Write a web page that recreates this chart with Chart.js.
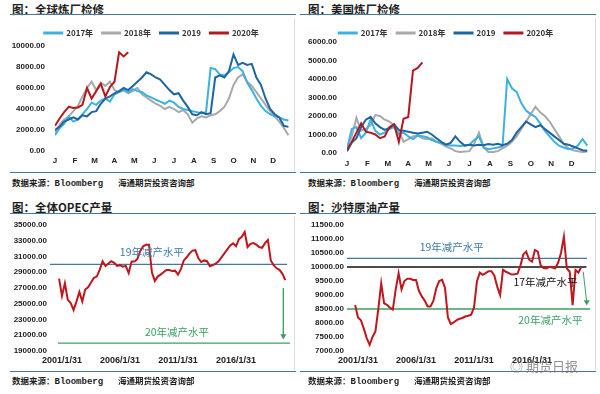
<!DOCTYPE html>
<html>
<head>
<meta charset="utf-8">
<script src="https://cdn.jsdelivr.net/npm/chart.js@4.4.0/dist/chart.umd.min.js"></script>
<style>
    body { margin: 0; background: #fff; font-family: "Noto Sans CJK SC", sans-serif; }
    #page { position: relative; width: 600px; height: 394px; overflow: hidden; background: #fff; }
    .title { position: absolute; font-size: 11.5px; font-weight: bold; color: #1e1e1e; line-height: 12px; white-space: nowrap; }
    .rule { position: absolute; height: 0; border-top: 1.5px solid #44799c; }
    .edge { position: absolute; width: 0; border-left: 1px solid #dcdcdc; }
    .src { position: absolute; font-size: 8.5px; font-weight: bold; color: #1e1e1e; line-height: 10px; white-space: nowrap; }
    .mono { font-family: "Liberation Mono", monospace; font-size: 9px; }
    .cv { position: absolute; }
    .mark { position: absolute; left: 510px; top: 356px; font-size: 13px; color: rgba(110, 110, 110, 0.75); white-space: nowrap; }
</style>
</head>
<body>
<div id="page">
    <div class="title" style="left:12px;top:3px">图：全球炼厂检修</div>
    <div class="title" style="left:308px;top:3px">图：美国炼厂检修</div>
    <div class="title" style="left:12px;top:201px">图：全体OPEC产量</div>
    <div class="title" style="left:308px;top:201px">图：沙特原油产量</div>

    <div class="rule" style="left:10px;top:14px;width:286px"></div>
    <div class="rule" style="left:300px;top:14px;width:296px"></div>
    <div class="rule" style="left:10px;top:172px;width:286px"></div>
    <div class="rule" style="left:300px;top:172px;width:296px"></div>
    <div class="rule" style="left:10px;top:213px;width:286px"></div>
    <div class="rule" style="left:300px;top:213px;width:296px"></div>
    <div class="rule" style="left:10px;top:371px;width:286px"></div>
    <div class="rule" style="left:300px;top:371px;width:296px"></div>

    <div class="edge" style="left:294px;top:18px;height:153px"></div>
    <div class="edge" style="left:595px;top:18px;height:153px"></div>
    <div class="edge" style="left:294px;top:216px;height:154px"></div>
    <div class="edge" style="left:595px;top:216px;height:154px"></div>

    <canvas id="chartGlobal" class="cv" style="left:10px;top:20px" width="286" height="152"></canvas>
    <canvas id="chartUS" class="cv" style="left:300px;top:20px" width="296" height="153"></canvas>
    <canvas id="chartOpec" class="cv" style="left:10px;top:216px" width="286" height="156"></canvas>
    <canvas id="chartSaudi" class="cv" style="left:305px;top:216px" width="290" height="156"></canvas>

    <div class="src" style="left:12px;top:177px">数据来源：<span class="mono">Bloomberg</span></div>
    <div class="src" style="left:118px;top:177px">海通期货投资咨询部</div>
    <div class="src" style="left:308px;top:177px">数据来源：<span class="mono">Bloomberg</span></div>
    <div class="src" style="left:414px;top:177px">海通期货投资咨询部</div>
    <div class="src" style="left:12px;top:375px">数据来源：<span class="mono">Bloomberg</span></div>
    <div class="src" style="left:118px;top:375px">海通期货投资咨询部</div>
    <div class="src" style="left:308px;top:375px">数据来源：<span class="mono">Bloomberg</span></div>
    <div class="src" style="left:414px;top:375px">海通期货投资咨询部</div>

    <div class="mark">◎ 期货日报</div>
</div>

<script>
// 月份刻度
const MONTHS = ["J", "F", "M", "A", "M", "J", "J", "A", "S", "O", "N", "D"];

// 全球炼厂检修（周度）
const global2017 = [1500, 2200, 2600, 3300, 2800, 3000, 3500, 4000, 4600, 4400, 4800, 5000, 4700, 5400, 5600, 5800, 5600, 5900, 5700, 5600, 5300, 5100, 4900, 4700, 4500, 4800, 4600, 4200, 4000, 3900, 3800, 3700, 3600, 3700, 7900, 7800, 7300, 7200, 7500, 7900, 8000, 7600, 6500, 5800, 5000, 4300, 3800, 3500, 3300, 3200, 3000, 2900];
const global2018 = [1800, 2500, 3000, 3300, 3800, 4300, 5200, 6000, 6600, 5800, 6500, 6200, 6600, 5800, 5600, 5800, 5500, 5700, 6000, 5400, 5100, 4800, 4500, 4300, 4000, 4200, 4000, 3700, 3900, 3500, 2700, 3100, 3300, 3200, 3400, 3500, 3800, 4200, 5000, 6300, 7000, 7300, 6600, 6200, 5600, 5000, 4400, 3800, 3300, 2800, 2200, 1500];
const global2019 = [2000, 2300, 2800, 3000, 3200, 3000, 3400, 3300, 3700, 3800, 4500, 5000, 5200, 5500, 5700, 6000, 5800, 6200, 6600, 7000, 7500, 7300, 7000, 6800, 6300, 5800, 5400, 5500, 4800, 4200, 3500, 3400, 3700, 3500, 3600, 7000, 7200, 7000, 7600, 9200, 8200, 8400, 8200, 8300, 7000, 6300, 5000, 4000, 3500, 3200, 2400, 2300];
const global2020 = [2400, 3100, 3700, 4200, 4100, 4150, 4400, 6000, 5000, 5700, 6400, 5200, 6100, 6600, 9400, 9000, 9400];

// 美国炼厂检修（周度）
const us2017 = [200, 1300, 1400, 800, 1100, 1800, 1200, 1000, 1100, 1300, 1400, 1000, 1100, 900, 750, 950, 900, 850, 700, 600, 550, 450, 400, 400, 380, 400, 450, 700, 900, 300, 200, 250, 300, 350, 4000, 3500, 3300, 2700, 2300, 2100, 1950, 1600, 1200, 900, 600, 400, 300, 200, 250, 400, 750, 400];
const us2018 = [300, 900, 1900, 1200, 1300, 1500, 2050, 2000, 1800, 1700, 1500, 1200, 600, 750, 900, 950, 800, 750, 800, 600, 500, 350, 250, 100, 50, 80, 100, 500, 1100, 300, 50, 50, 100, 250, 400, 600, 900, 1300, 1700, 2100, 2500, 2200, 2000, 1700, 1300, 900, 500, 250, 150, 100, 50, 80];
const us2019 = [100, 550, 800, 1400, 1800, 1950, 1600, 1400, 1250, 1350, 1550, 1250, 1200, 1150, 1100, 1050, 1100, 1150, 1000, 800, 600, 450, 550, 900, 600, 400, 450, 400, 450, 420, 480, 450, 500, 420, 500, 700, 1100, 1400, 1700, 1550, 1400, 1500, 1300, 1100, 900, 700, 500, 450, 350, 250, 150, 120];
const us2020 = [150, 600, 1100, 1600, 1150, 1100, 1000, 800, 900, 1400, 1550, 600, 1850, 1950, 4450, 4600, 4900];

// OPEC / 沙特产量（季度，2000年10月起）
const SERIES_START = 9; // 自2000年1月起的月数
const opecOutput = [28200, 26000, 27600, 25500, 25100, 24200, 25300, 26500, 25300, 26800, 27100, 27700, 28300, 28450, 29300, 30400, 29800, 30100, 30400, 30200, 29800, 29900, 29700, 29800, 28900, 30350, 30350, 30700, 31700, 32300, 32500, 32500, 29000, 27900, 28450, 28700, 29000, 29300, 29290, 29150, 29200, 28700, 29400, 30500, 30900, 31400, 31750, 31800, 30800, 30300, 30500, 30400, 29750, 29900, 30100, 30400, 30900, 31400, 31900, 32400, 32670, 32300, 33200, 33500, 34100, 32200, 32600, 32700, 32500, 32200, 32100, 32700, 33100, 30500, 29900, 29500, 29300, 28800, 28000];
const saudiOutput = [8640, 8200, 8100, 7800, 7460, 7220, 7500, 7700, 8500, 9420, 8700, 8650, 8550, 8480, 9200, 9780, 9200, 9500, 9580, 9580, 9540, 9540, 9150, 8950, 8800, 8590, 8590, 8800, 9250, 9500, 9540, 9250, 8200, 7960, 8020, 8100, 8150, 8180, 8230, 8260, 8300, 8550, 9480, 9800, 9720, 9780, 9850, 9850, 9700, 9300, 9000, 9900, 9830, 9780, 9730, 9740, 9760, 10050, 10450, 10550, 10260, 10190, 10610, 10550, 10050, 9960, 9950, 10010, 9980, 9950, 10150, 10500, 11080, 9950, 9830, 8640, 9890, 9800, 10010];

// 减产水平
const opecCut19 = 30000;
const opecCut20 = 20000;
const saudiCut19 = 10310;
const saudiCut17 = 10000;
const saudiCut20 = 8500;
const tickYears = [2001, 2006, 2011, 2016];

const C17 = "#3cb2e0";
const C18 = "#a9a9a9";
const C19 = "#1f64a3";
const C20 = "#b3191f";
const RED = "#c0161c";
const BLUE = "#3f7aa6";
const GREEN = "#3c9f62";
const NUM_FONT = '"Liberation Sans", Arial, sans-serif';
const CJK = '"Noto Sans CJK SC", sans-serif';

const weekPts = (vals) => vals.map((v, i) => ({ x: i * 12 / 52, y: v }));
const quarterPts = (vals) => vals.map((v, i) => ({ x: SERIES_START + i * 3, y: v }));
const ym = (year) => (year - 2000) * 12;

const yearLine = (label, vals, color, order) => ({
    label: label,
    data: weekPts(vals),
    borderColor: color,
    backgroundColor: color,
    borderWidth: 2,
    pointRadius: 0,
    tension: 0,
    order: order,
});

const refLine = (value, from, to, color, width) => ({
    data: [{ x: from, y: value }, { x: to, y: value }],
    borderColor: color,
    borderWidth: width || 1.3,
    pointRadius: 0,
});

const arrowLine = (x1, y1, x2, y2) => ({
    data: [{ x: x1, y: y1 }, { x: x2, y: y2 }],
    borderColor: GREEN,
    backgroundColor: GREEN,
    borderWidth: 1,
    pointRadius: [0, 3.5],
    pointStyle: "triangle",
    rotation: 180,
    pointBorderWidth: 0,
});

// 在图上写减产水平的文字
const notesPlugin = {
    id: "notes",
    afterDatasetsDraw(chart, args, opts) {
        const ctx = chart.ctx;
        const x = chart.scales.x;
        const y = chart.scales.y;
        (opts.items || []).forEach((n) => {
            ctx.save();
            ctx.font = "10.5px " + CJK;
            ctx.fillStyle = n.color;
            ctx.textAlign = "center";
            ctx.textBaseline = "middle";
            ctx.fillText(n.text, x.getPixelForValue(n.x), y.getPixelForValue(n.y));
            ctx.restore();
        });
    },
};

const getSeasonConfig = (datasets, yMax, yStep, box) => ({
    type: "line",
    data: { datasets: datasets },
    options: {
        responsive: false,
        animation: false,
        devicePixelRatio: 1,
        layout: { padding: { top: 0, right: box.right, left: 0, bottom: 0 } },
        plugins: {
            tooltip: { enabled: false },
            legend: {
                maxHeight: box.legend,
                labels: {
                    boxWidth: 18,
                    boxHeight: 1,
                    padding: 9,
                    color: "#333",
                    font: { size: 8, weight: "bold", family: CJK },
                    sort: (a, b) => a.datasetIndex - b.datasetIndex,
                },
            },
        },
        scales: {
            x: {
                type: "linear",
                min: 0,
                max: 12,
                grid: { display: false, drawTicks: false },
                border: { display: false },
                afterBuildTicks: (s) => { s.ticks = MONTHS.map((m, i) => ({ value: i })); },
                afterFit: (s) => { s.height = box.xh; },
                ticks: {
                    autoSkip: false,
                    maxRotation: 0,
                    padding: box.xpad,
                    color: "#222",
                    font: { size: 8, weight: "bold", family: NUM_FONT },
                    callback: (v) => MONTHS[v],
                },
            },
            y: {
                min: 0,
                max: yMax,
                grid: { display: false, drawTicks: false },
                border: { display: false },
                afterFit: (s) => { s.width = box.yw; },
                ticks: {
                    stepSize: yStep,
                    padding: 10,
                    color: "#222",
                    font: { size: 8, weight: "bold", family: NUM_FONT },
                    callback: (v) => v.toFixed(2),
                },
            },
        },
    },
});

const getHistoryConfig = (datasets, yMin, yMax, yStep, xMin, xMax, box, notes) => ({
    type: "line",
    data: { datasets: datasets },
    plugins: [notesPlugin],
    options: {
        responsive: false,
        animation: false,
        devicePixelRatio: 1,
        layout: { padding: { top: 9, right: box.right, left: 0, bottom: 0 } },
        plugins: {
            tooltip: { enabled: false },
            legend: { display: false },
            notes: { items: notes },
        },
        scales: {
            x: {
                type: "linear",
                min: xMin,
                max: xMax,
                grid: { display: false, drawTicks: false },
                border: { display: false },
                afterBuildTicks: (s) => { s.ticks = tickYears.map((yr) => ({ value: ym(yr) })); },
                afterFit: (s) => { s.height = 21; },
                ticks: {
                    autoSkip: false,
                    maxRotation: 0,
                    padding: 4,
                    color: "#222",
                    font: { size: 9, weight: "bold", family: NUM_FONT },
                    callback: (v) => (2000 + v / 12) + "/1/31",
                },
            },
            y: {
                min: yMin,
                max: yMax,
                grid: { display: false, drawTicks: false },
                border: { display: false },
                afterFit: (s) => { s.width = box.yw; },
                ticks: {
                    stepSize: yStep,
                    padding: 3,
                    color: "#222",
                    font: { size: 8, weight: "bold", family: NUM_FONT },
                    callback: (v) => v.toFixed(2),
                },
            },
        },
    },
});

new Chart(document.getElementById("chartGlobal"), getSeasonConfig([
    yearLine("2017年", global2017, C17, 2),
    yearLine("2018年", global2018, C18, 3),
    yearLine("2019", global2019, C19, 1),
    yearLine("2020年", global2020, C20, 0),
], 10000, 2000, { right: 3, legend: 26, xh: 21, xpad: 5, yw: 45 }));

new Chart(document.getElementById("chartUS"), getSeasonConfig([
    yearLine("2017年", us2017, C17, 2),
    yearLine("2018年", us2018, C18, 3),
    yearLine("2019", us2019, C19, 1),
    yearLine("2020年", us2020, C20, 0),
], 6000, 1000, { right: 4, legend: 22, xh: 20, xpad: 6, yw: 47 }));

new Chart(document.getElementById("chartOpec"), getHistoryConfig([
    { data: quarterPts(opecOutput), borderColor: RED, borderWidth: 2, pointRadius: 0, tension: 0 },
    refLine(opecCut19, -0.4, 244.8, BLUE),
    refLine(opecCut20, 7.9, 247.9, GREEN),
    arrowLine(241, 26960, 241, 20900),
], 19000, 35000, 2000, -0.4, 248.9, { right: 5, yw: 40 }, [
    { text: "19年减产水平", x: 105, y: 31570, color: BLUE },
    { text: "20年减产水平", x: 131, y: 21450, color: GREEN },
]));

new Chart(document.getElementById("chartSaudi"), getHistoryConfig([
    { data: quarterPts(saudiOutput), borderColor: RED, borderWidth: 2, pointRadius: 0, tension: 0 },
    refLine(saudiCut19, 0.6, 248.9, BLUE),
    refLine(saudiCut17, 0.6, 248.3, "#111", 1.5),
    refLine(saudiCut20, 0.6, 252, GREEN),
    arrowLine(245, 9830, 248.6, 8750),
], 7000, 11500, 500, 0.6, 252, { right: 5, yw: 42 }, [
    { text: "19年减产水平", x: 109, y: 10725, color: BLUE },
    { text: "17年减产水平", x: 206, y: 9453, color: "#111" },
    { text: "20年减产水平", x: 211, y: 8107, color: GREEN },
]));
</script>
</body>
</html>
